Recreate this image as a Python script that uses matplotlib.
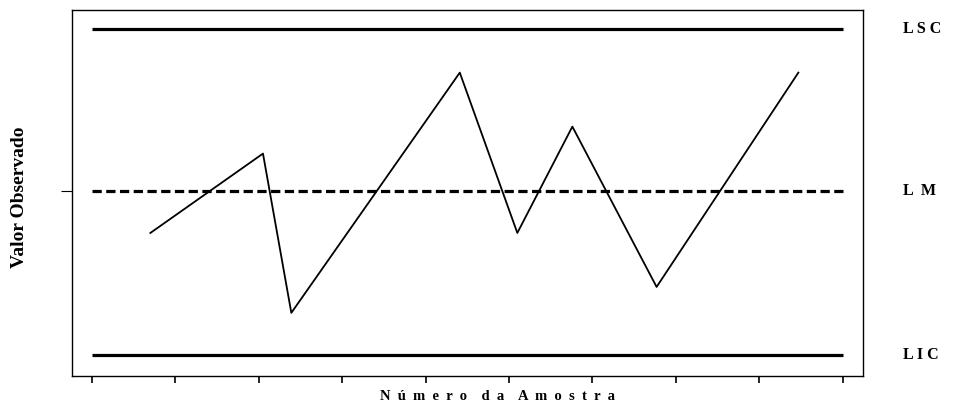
import matplotlib.pyplot as plt

# sample number and observed value (in sigma units from the centre line)
amostra = [1.70, 3.05, 3.39, 5.41, 6.10, 6.76, 7.77, 9.47]
valor = [-0.78, 0.69, -2.26, 2.19, -0.78, 1.19, -1.78, 2.19]

lsc, lm, lic = 3.0, 0.0, -3.04
limite_labels = ['L S C', 'L  M', 'L I C']

fig = plt.figure(figsize=(9.59, 4.07), dpi=100)
ax = fig.add_axes([72 / 959, 31 / 407, (863 - 72) / 959, (376 - 10) / 407])

serif = 'Liberation Serif'

ax.plot([1, 10], [lsc, lsc], color='black', lw=2.3, solid_capstyle='butt')
ax.plot([1, 10], [lic, lic], color='black', lw=2.3, solid_capstyle='butt')
ax.plot([1, 10], [lm, lm], color='black', lw=2.3, ls=(0, (2.9, 1.4)))
ax.plot(amostra, valor, color='black', lw=1.3)

ax.set_xlim(0.76, 10.245)
ax.set_ylim(-3.43, 3.35)
ax.set_xticks(range(1, 11))
ax.set_xticklabels([])
ax.set_yticks([lm])
ax.set_yticklabels([])
ax.tick_params(axis='x', length=5, width=1.2, direction='out')
ax.tick_params(axis='y', length=8, width=0.8, direction='out')
for s in ax.spines.values():
    s.set_linewidth(1.0)

for y, txt in zip([lsc, lm, lic], limite_labels):
    ax.text(1.051, y, txt, transform=ax.get_yaxis_transform(), ha='left',
            va='center', fontsize=11.5, fontweight='bold', family=serif)

fig.text(20 / 959, 1 - 197 / 407, 'Valor Observado', rotation=90, ha='center',
         va='center', fontsize=14, fontweight='bold', family=serif)
fig.text(497 / 959, 1 - 397 / 407,
         'N  ú  m  e  r  o    d  a    A  m  o  s  t  r  a',
         ha='center', va='center', fontsize=10.5, fontweight='bold', family=serif)

fig.savefig('out.png', dpi=100)
